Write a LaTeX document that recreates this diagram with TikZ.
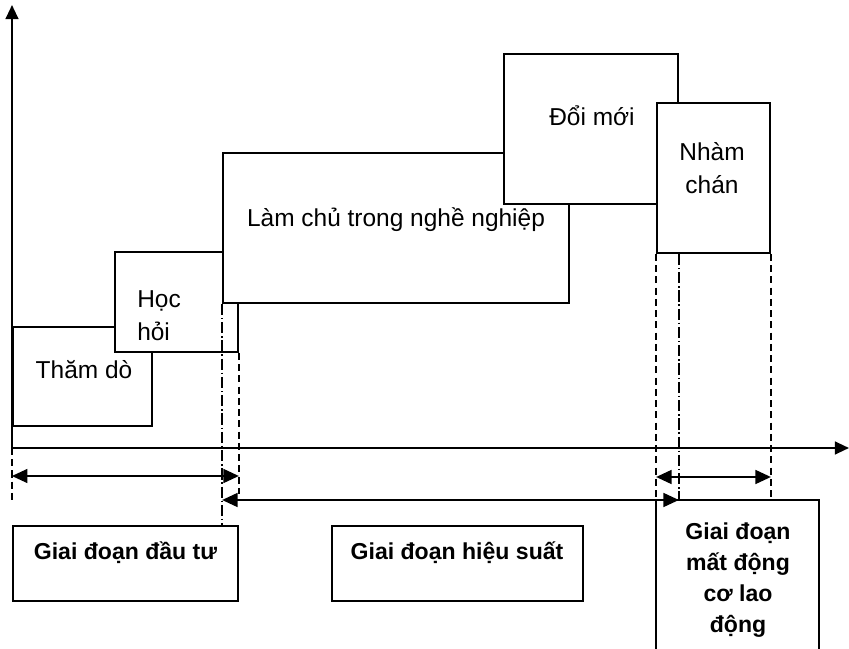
\documentclass[tikz,border=0pt]{standalone}
\usepackage{fontspec}
\setmainfont{Liberation Sans}
\usetikzlibrary{arrows.meta, positioning, calc}

\begin{document}
\begin{tikzpicture}[
    stage/.style={rectangle, draw, line width=1.2pt, fill=white, inner sep=0pt},
    lbl/.style={inner sep=0pt, align=center, font=\fontsize{17.4}{23.4}\selectfont},
    phase/.style={inner sep=0pt, align=center, font=\fontsize{16.4}{22}\selectfont\bfseries},
    axis/.style={-{Triangle[length=10pt, width=9pt]}, line width=1.6pt},
    span/.style={{Triangle[length=11pt, width=10pt]}-{Triangle[length=11pt, width=10pt]}, line width=1pt},
    guide/.style={line width=1pt, dash pattern=on 5pt off 3pt},
    guidedot/.style={line width=1pt, dash pattern=on 8pt off 2pt on 1pt off 2pt}
]
\useasboundingbox (-0.3,-5.0) rectangle (20.925,11.2);

% axes
\coordinate (o) at (0,0);
\coordinate (ytip) at (0,11.075);
\coordinate (xtip) at (20.925,0);
\draw[axis] (o) -- (ytip);
\draw[axis] (o) -- (xtip);

% stages
\node[stage, minimum width=3.475cm, minimum height=2.475cm] (thamdo) at (1.7625,1.7875) {};
\node[lbl] (thamdotxt) at (1.8,1.95) {Thăm dò};
\node[stage, minimum width=3.075cm, minimum height=2.5cm] (hochoi) at (4.1125,3.65) {};
\node[lbl, anchor=west, align=left] (hochoitxt) at (3.125,3.3) {Học\\hỏi};
\node[stage, minimum width=8.65cm, minimum height=3.75cm] (lamchu) at (9.6,5.5) {};
\node[lbl] (lamchutxt) at (9.6,5.7) {Làm chủ trong nghề nghiệp};
\node[stage, minimum width=4.35cm, minimum height=3.75cm] (doimoi) at (14.475,7.975) {};
\node[lbl] (doimoitxt) at (14.5,8.3) {Đổi mới};
\node[stage, minimum width=2.825cm, minimum height=3.75cm] (nhamchan) at (17.5375,6.75) {};
\node[lbl] (nhamchantxt) at (17.5,7.0) {Nhàm\\chán};

% phases
\node[stage, minimum width=5.625cm, minimum height=1.875cm] (dautu) at (2.8375,-2.8875) {};
\node[phase] (daututxt) at (2.8375,-2.625) {Giai đoạn đầu tư};
\node[stage, minimum width=6.275cm, minimum height=1.875cm] (hieusuat) at (11.1375,-2.8875) {};
\node[phase] (hieusuattxt) at (11.125,-2.625) {Giai đoạn hiệu suất};
\node[stage, minimum width=4.075cm, minimum height=3.775cm] (matdongco) at (18.1375,-3.1875) {};
\node[phase] (matdongcotxt) at (18.15,-3.3) {Giai đoạn\\mất động\\cơ lao\\động};

% guides
\draw[guide] (o) -- ++(0,-1.3);
\draw[guidedot] (lamchu.south west) -- (lamchu.south west |- dautu.north);
\draw[guide] (hochoi.south east) -- ++(0,-3.525);
\draw[guide] (nhamchan.south west) -- (nhamchan.south west |- matdongco.north);
\draw[guidedot] (doimoi.east |- nhamchan.south) -- ++(0,-6.15);
\draw[guide] (nhamchan.south east) -- (nhamchan.south east |- matdongco.north);

% spans
\coordinate (s1) at (0,-0.7);
\coordinate (s2) at (0,-1.3);
\coordinate (s3) at (0,-0.725);
\draw[span] (s1) -- (s1 -| hochoi.east);
\draw[span] (s2 -| lamchu.west) -- (s2 -| doimoi.east);
\draw[span] (s3 -| nhamchan.west) -- (s3 -| nhamchan.east);
\end{tikzpicture}
\end{document}
